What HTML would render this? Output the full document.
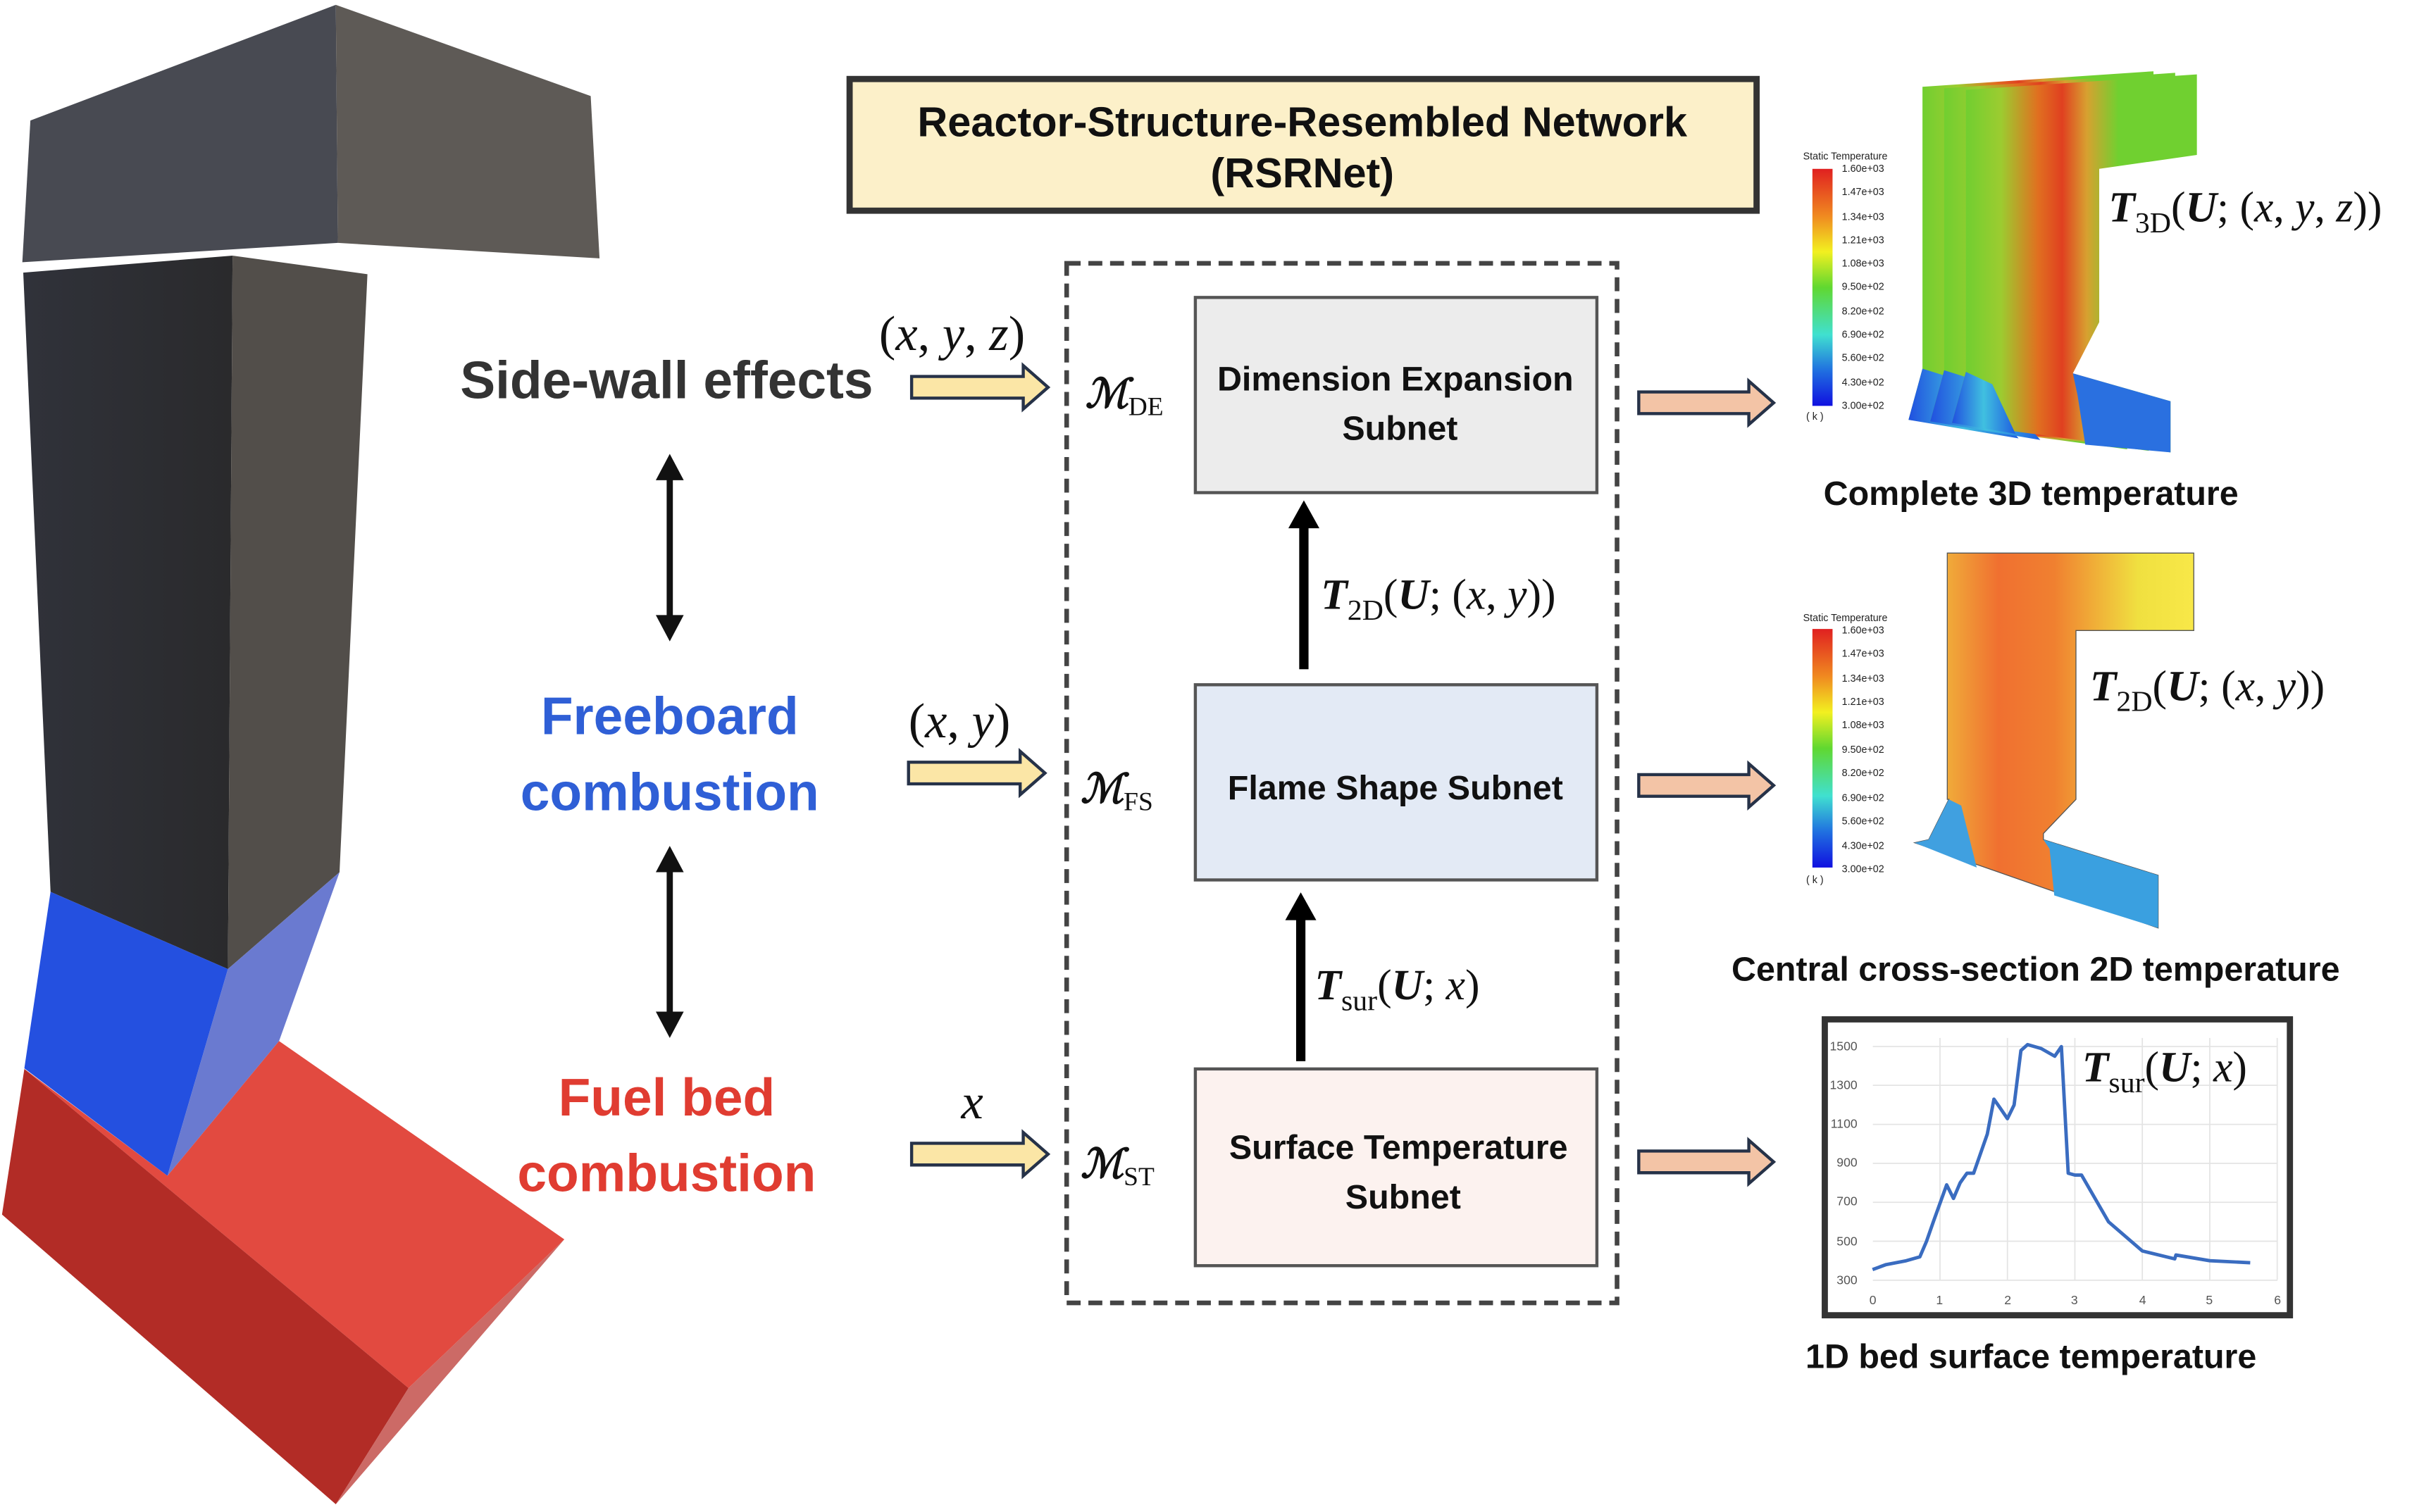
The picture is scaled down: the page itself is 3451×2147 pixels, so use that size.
<!DOCTYPE html>
<html><head><meta charset="utf-8"><style>
html,body{margin:0;padding:0;background:#fff;overflow:hidden}
svg{display:block}
.lb{font-family:"Liberation Sans",sans-serif;font-weight:bold}
.m{font-family:"Liberation Serif",serif;font-style:italic}
.mb{font-family:"Liberation Serif",serif;font-style:italic;font-weight:bold}
.r{font-family:"Liberation Serif",serif}
.cb{font-family:"Liberation Sans",sans-serif;font-size:6.5px;fill:#222}
</style></head><body>
<svg width="3451" height="2147" viewBox="0 0 1568 976" preserveAspectRatio="none" xmlns="http://www.w3.org/2000/svg">
<defs>
<linearGradient id="cbar" x1="0" y1="0" x2="0" y2="1">
<stop offset="0" stop-color="#e02020"/><stop offset="0.2" stop-color="#f08a20"/><stop offset="0.35" stop-color="#f2f020"/><stop offset="0.5" stop-color="#60d830"/><stop offset="0.7" stop-color="#40e0d0"/><stop offset="0.85" stop-color="#2070e0"/><stop offset="1" stop-color="#1010e0"/>
</linearGradient>
<linearGradient id="g3d" x1="0" y1="0" x2="1" y2="0">
<stop offset="0" stop-color="#60d030"/><stop offset="0.2" stop-color="#9ccc30"/><stop offset="0.35" stop-color="#e07020"/><stop offset="0.45" stop-color="#e04020"/><stop offset="0.55" stop-color="#d8a030"/><stop offset="0.68" stop-color="#70d030"/><stop offset="1" stop-color="#70d030"/>
</linearGradient>
<linearGradient id="g2d" x1="0" y1="0" x2="1" y2="0">
<stop offset="0" stop-color="#f0d040"/><stop offset="0.3" stop-color="#f07030"/><stop offset="0.5" stop-color="#f08030"/><stop offset="0.8" stop-color="#f0e040"/><stop offset="1" stop-color="#f8e848"/>
</linearGradient>
<linearGradient id="blu" x1="0" y1="0" x2="1" y2="0">
<stop offset="0" stop-color="#2050e0"/><stop offset="0.5" stop-color="#40c0e0"/><stop offset="1" stop-color="#2060e0"/>
</linearGradient>
<linearGradient id="col" x1="0" y1="0" x2="1" y2="0"><stop offset="0" stop-color="#30323a"/><stop offset="1" stop-color="#2a2a2c"/></linearGradient>
</defs>

<!-- reactor -->
<polygon points="19.6,77.8 216.6,3.1 217.9,156.8 14.4,169.3" fill="#484a52"/>
<polygon points="216.6,3.1 381,62 386.7,166.8 217.9,156.8" fill="#5e5a56"/>
<polygon points="15,176 150,165 147,625.5 32.6,575.7" fill="url(#col)"/>
<polygon points="150,165 237,177 219,563 147,625.5" fill="#524e4a"/>
<polygon points="32.6,575.7 147,625.5 108,759 15.7,689.6" fill="#2450e0"/>
<polygon points="147,625.5 219,563 180,672 108,759" fill="#6a7ad0"/>
<polygon points="15.7,690 108,759 180,672 364,800 263.5,896" fill="#e24a40"/>
<polygon points="15.7,690 263.5,896 216.6,971 1.3,784" fill="#b22c26"/>
<polygon points="263.5,896 364,800 216.6,971" fill="#cc6a66"/>

<!-- left labels -->
<text x="430" y="257" class="lb" font-size="34" fill="#333" text-anchor="middle">Side-wall effects</text>
<text x="432" y="474" class="lb" font-size="34" fill="#2f5fd6" text-anchor="middle">Freeboard</text>
<text x="432" y="523" class="lb" font-size="34" fill="#2f5fd6" text-anchor="middle">combustion</text>
<text x="430" y="720" class="lb" font-size="34" fill="#e03c31" text-anchor="middle">Fuel bed</text>
<text x="430" y="769" class="lb" font-size="34" fill="#e03c31" text-anchor="middle">combustion</text>

<!-- double arrows -->
<g fill="#111">
<rect x="430" y="305" width="4" height="98"/><polygon points="432,293 423,310 441,310"/><polygon points="432,414 423,397 441,397"/>
<rect x="430" y="558" width="4" height="100"/><polygon points="432,546 423,563 441,563"/><polygon points="432,670 423,653 441,653"/>
</g>

<!-- title -->
<rect x="548" y="51" width="585" height="85" fill="#fcf0c9" stroke="#333" stroke-width="4"/>
<text x="840" y="88" class="lb" font-size="27" fill="#111" text-anchor="middle">Reactor-Structure-Resembled Network</text>
<text x="840" y="121" class="lb" font-size="27" fill="#111" text-anchor="middle">(RSRNet)</text>

<!-- dashed container -->
<rect x="688" y="170" width="355" height="671" fill="none" stroke="#444" stroke-width="3" stroke-dasharray="9,5"/>

<!-- subnet boxes -->
<rect x="771" y="192" width="259" height="126" fill="#ececec" stroke="#555" stroke-width="2"/>
<text x="900" y="252" class="lb" font-size="22" fill="#111" text-anchor="middle">Dimension Expansion</text>
<text x="903" y="284" class="lb" font-size="22" fill="#111" text-anchor="middle">Subnet</text>
<rect x="771" y="442" width="259" height="126" fill="#e3eaf5" stroke="#555" stroke-width="2"/>
<text x="900" y="516" class="lb" font-size="22" fill="#111" text-anchor="middle">Flame Shape Subnet</text>
<rect x="771" y="690" width="259" height="127" fill="#fcf2ef" stroke="#555" stroke-width="2"/>
<text x="902" y="748" class="lb" font-size="22" fill="#111" text-anchor="middle">Surface Temperature</text>
<text x="905" y="780" class="lb" font-size="22" fill="#111" text-anchor="middle">Subnet</text>

<!-- vertical arrows -->
<rect x="838" y="338" width="6" height="94" fill="#000"/><polygon points="841,323 831,341 851,341" fill="#000"/>
<rect x="836" y="590" width="6" height="95" fill="#000"/><polygon points="839,576 829,594 849,594" fill="#000"/>
<text x="852" y="393" class="mb" font-size="28" fill="#111">T<tspan class="r" font-style="normal" font-weight="normal" font-size="19" dy="7">2D</tspan><tspan dy="-7" class="r" font-style="normal" font-weight="normal">(</tspan>U<tspan class="r" font-style="normal" font-weight="normal">; (</tspan><tspan font-weight="normal">x</tspan><tspan class="r" font-style="normal" font-weight="normal">, </tspan><tspan font-weight="normal">y</tspan><tspan class="r" font-style="normal" font-weight="normal">))</tspan></text>
<text x="848" y="645" class="mb" font-size="28" fill="#111">T<tspan class="r" font-style="normal" font-weight="normal" font-size="19" dy="7">sur</tspan><tspan dy="-7" class="r" font-style="normal" font-weight="normal">(</tspan>U<tspan class="r" font-style="normal" font-weight="normal">; </tspan><tspan font-weight="normal">x</tspan><tspan class="r" font-style="normal" font-weight="normal">)</tspan></text>

<!-- M labels -->
<text x="700" y="263" class="mb" font-size="26" fill="#111">ℳ<tspan class="r" font-style="normal" font-weight="normal" font-size="17" dy="5">DE</tspan></text>
<text x="697" y="518" class="mb" font-size="26" fill="#111">ℳ<tspan class="r" font-style="normal" font-weight="normal" font-size="17" dy="5">FS</tspan></text>
<text x="697" y="760" class="mb" font-size="26" fill="#111">ℳ<tspan class="r" font-style="normal" font-weight="normal" font-size="17" dy="5">ST</tspan></text>

<!-- input arrows -->
<g fill="#fbe6a6" stroke="#263248" stroke-width="2">
<polygon points="588,243 660,243 660,236 676,250 660,264 660,257 588,257"/>
<polygon points="586,492 658,492 658,485 674,499 658,513 658,506 586,506"/>
<polygon points="588,738 660,738 660,731 676,745 660,759 660,752 588,752"/>
</g>
<text x="567" y="226" class="m" font-size="32" fill="#111"><tspan class="r" font-style="normal">(</tspan>x<tspan class="r" font-style="normal">, </tspan>y<tspan class="r" font-style="normal">, </tspan>z<tspan class="r" font-style="normal">)</tspan></text>
<text x="586" y="476" class="m" font-size="32" fill="#111"><tspan class="r" font-style="normal">(</tspan>x<tspan class="r" font-style="normal">, </tspan>y<tspan class="r" font-style="normal">)</tspan></text>
<text x="620" y="722" class="m" font-size="32" fill="#111">x</text>

<!-- output arrows -->
<g fill="#f3c4a6" stroke="#263248" stroke-width="2">
<polygon points="1057,253 1128,253 1128,246 1144,260 1128,274 1128,267 1057,267"/>
<polygon points="1057,500 1128,500 1128,493 1144,507 1128,521 1128,514 1057,514"/>
<polygon points="1057,743 1128,743 1128,736 1144,750 1128,764 1128,757 1057,757"/>
</g>

<!-- 3D plot -->
<text x="1163" y="103" class="cb">Static Temperature</text>
<rect x="1169" y="109" width="13" height="153" fill="url(#cbar)"/>
<g class="cb">
<text x="1188" y="111">1.60e+03</text><text x="1188" y="126">1.47e+03</text><text x="1188" y="142">1.34e+03</text><text x="1188" y="157">1.21e+03</text><text x="1188" y="172">1.08e+03</text><text x="1188" y="187">9.50e+02</text><text x="1188" y="203">8.20e+02</text><text x="1188" y="218">6.90e+02</text><text x="1188" y="233">5.60e+02</text><text x="1188" y="249">4.30e+02</text><text x="1188" y="264">3.00e+02</text><text x="1165" y="271">( k )</text>
</g>
<g transform="translate(-28,-2)">
<polygon points="1268,58 1417,48 1417,100 1354,109 1354,208 1337,241 1400,259 1400,292 1259,273 1268,240" fill="url(#g3d)"/>
<polygon points="1259,273 1268,240 1300,250 1330,285" fill="url(#blu)"/>
</g>
<g transform="translate(-14,-1)">
<polygon points="1268,58 1417,48 1417,100 1354,109 1354,208 1337,241 1400,259 1400,292 1259,273 1268,240" fill="url(#g3d)"/>
<polygon points="1259,273 1268,240 1300,250 1330,285" fill="url(#blu)"/>
</g>
<polygon points="1268,58 1417,48 1417,100 1354,109 1354,208 1337,241 1400,259 1400,292 1259,273 1268,240" fill="url(#g3d)"/>
<polygon points="1337,241 1400,259 1400,292 1345,287 1340,255" fill="#2a70e0"/>
<polygon points="1259,273 1268,240 1285,248 1300,280" fill="url(#blu)"/>
<text x="1360" y="143" class="mb" font-size="28" fill="#111">T<tspan class="r" font-style="normal" font-weight="normal" font-size="19" dy="7">3D</tspan><tspan dy="-7" class="r" font-style="normal" font-weight="normal">(</tspan>U<tspan class="r" font-style="normal" font-weight="normal">; (</tspan><tspan font-weight="normal">x</tspan><tspan class="r" font-style="normal" font-weight="normal">, </tspan><tspan font-weight="normal">y</tspan><tspan class="r" font-style="normal" font-weight="normal">, </tspan><tspan font-weight="normal">z</tspan><tspan class="r" font-style="normal" font-weight="normal">))</tspan></text>
<text x="1310" y="326" class="lb" font-size="22" fill="#111" text-anchor="middle">Complete 3D temperature</text>

<!-- 2D plot -->
<text x="1163" y="401" class="cb">Static Temperature</text>
<rect x="1169" y="406" width="13" height="154" fill="url(#cbar)"/>
<g class="cb">
<text x="1188" y="409">1.60e+03</text><text x="1188" y="424">1.47e+03</text><text x="1188" y="440">1.34e+03</text><text x="1188" y="455">1.21e+03</text><text x="1188" y="470">1.08e+03</text><text x="1188" y="486">9.50e+02</text><text x="1188" y="501">8.20e+02</text><text x="1188" y="517">6.90e+02</text><text x="1188" y="532">5.60e+02</text><text x="1188" y="548">4.30e+02</text><text x="1188" y="563">3.00e+02</text><text x="1165" y="570">( k )</text>
</g>
<polygon points="1256,357 1415,357 1415,407 1339,407 1339,516 1318,538 1318,542 1392,565 1392,599 1235,544 1244,542 1257,516 1256,516" fill="url(#g2d)" stroke="#555" stroke-width="0.6"/>
<polygon points="1235,544 1244,542 1257,516 1265,520 1275,560" fill="#40a0e0"/>
<polygon points="1318,542 1392,565 1392,599 1325,578 1322,548" fill="#3aa0e0"/>
<text x="1348" y="452" class="mb" font-size="28" fill="#111">T<tspan class="r" font-style="normal" font-weight="normal" font-size="19" dy="7">2D</tspan><tspan dy="-7" class="r" font-style="normal" font-weight="normal">(</tspan>U<tspan class="r" font-style="normal" font-weight="normal">; (</tspan><tspan font-weight="normal">x</tspan><tspan class="r" font-style="normal" font-weight="normal">, </tspan><tspan font-weight="normal">y</tspan><tspan class="r" font-style="normal" font-weight="normal">))</tspan></text>
<text x="1313" y="633" class="lb" font-size="22" fill="#111" text-anchor="middle">Central cross-section 2D temperature</text>

<!-- 1D chart -->
<rect x="1177" y="658" width="300" height="191" fill="#fff" stroke="#333" stroke-width="4"/>
<g stroke="#e4e4e4" stroke-width="0.8">
<line x1="1208" y1="675.5" x2="1469" y2="675.5"/><line x1="1208" y1="700.6" x2="1469" y2="700.6"/><line x1="1208" y1="725.8" x2="1469" y2="725.8"/><line x1="1208" y1="750.9" x2="1469" y2="750.9"/><line x1="1208" y1="776.1" x2="1469" y2="776.1"/><line x1="1208" y1="801.2" x2="1469" y2="801.2"/><line x1="1208" y1="826.4" x2="1469" y2="826.4"/>
<line x1="1251.3" y1="670" x2="1251.3" y2="826"/><line x1="1294.8" y1="670" x2="1294.8" y2="826"/><line x1="1338.3" y1="670" x2="1338.3" y2="826"/><line x1="1381.8" y1="670" x2="1381.8" y2="826"/><line x1="1425.3" y1="670" x2="1425.3" y2="826"/><line x1="1468.8" y1="670" x2="1468.8" y2="826"/>
</g>
<g font-family="Liberation Sans,sans-serif" font-size="8" fill="#555" text-anchor="end">
<text x="1198" y="678">1500</text><text x="1198" y="703">1300</text><text x="1198" y="728">1100</text><text x="1198" y="753">900</text><text x="1198" y="778">700</text><text x="1198" y="804">500</text><text x="1198" y="829">300</text>
</g>
<g font-family="Liberation Sans,sans-serif" font-size="8" fill="#555" text-anchor="middle">
<text x="1208" y="842">0</text><text x="1251" y="842">1</text><text x="1295" y="842">2</text><text x="1338" y="842">3</text><text x="1382" y="842">4</text><text x="1425" y="842">5</text><text x="1469" y="842">6</text>
</g>
<polyline id="curve" fill="none" stroke="#3a6cc0" stroke-width="2.2" stroke-linejoin="round" points=""/>
<text x="1343" y="698" class="mb" font-size="28" fill="#111">T<tspan class="r" font-style="normal" font-weight="normal" font-size="19" dy="7">sur</tspan><tspan dy="-7" class="r" font-style="normal" font-weight="normal">(</tspan>U<tspan class="r" font-style="normal" font-weight="normal">; </tspan><tspan font-weight="normal">x</tspan><tspan class="r" font-style="normal" font-weight="normal">)</tspan></text>
<text x="1310" y="883" class="lb" font-size="22" fill="#111" text-anchor="middle">1D bed surface temperature</text>
</svg>
<script>
var d=[[0,355],[0.2,380],[0.5,400],[0.7,420],[0.8,500],[0.9,600],[1.1,790],[1.2,720],[1.3,800],[1.4,850],[1.5,850],[1.6,950],[1.7,1050],[1.8,1230],[1.9,1180],[2.0,1130],[2.1,1200],[2.2,1480],[2.3,1510],[2.5,1490],[2.7,1450],[2.8,1500],[2.9,850],[3.0,840],[3.1,840],[3.5,600],[4.0,450],[4.48,410],[4.5,430],[5,400],[5.6,390]];
document.getElementById('curve').setAttribute('points',d.map(function(p){return (1207.8+p[0]*43.5).toFixed(1)+','+(826.4-(p[1]-300)*0.1257).toFixed(1)}).join(' '));
</script>
</body></html>
